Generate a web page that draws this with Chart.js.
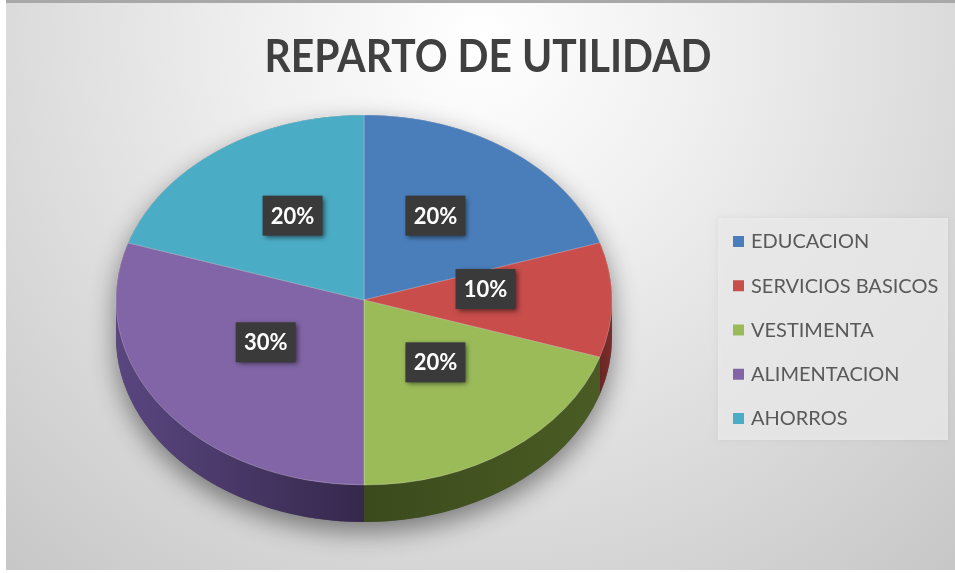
<!DOCTYPE html>
<html>
<head>
<meta charset="utf-8">
<script src="https://cdn.jsdelivr.net/npm/chart.js@4"></script>
<style>
  html, body { margin: 0; padding: 0; background: #fff; }
  #wrap { width: 955px; height: 573px; }
</style>
</head>
<body>
<div id="wrap"><canvas id="chart" width="955" height="573"></canvas></div>
<script>
const chartTitle = 'REPARTO DE UTILIDAD';
const categories = ['EDUCACION', 'SERVICIOS BASICOS', 'VESTIMENTA', 'ALIMENTACION', 'AHORROS'];
const shares = [20, 10, 20, 30, 20];
const topColors = ['#4a7ebb', '#c84d4b', '#9bbb59', '#8165a6', '#4bacc6'];
// side wall colours: [toward start angle, toward end angle]
const sideColors = [['#2c4a70', '#2c4a70'], ['#7a2e2c', '#6a2624'], ['#4a5c24', '#3b4a1c'], ['#35284c', '#5a4680'], ['#2c6676', '#2c6676']];

const tilt = 185 / 248;   // vertical squash of the pie
const depth = 37;         // thickness of the 3d edge

const pie3d = {
  id: 'pie3d',
  beforeDraw(chart) {
    const { ctx, width, height } = chart;
    ctx.save();
    ctx.fillStyle = '#ffffff';
    ctx.fillRect(0, 0, width, height);
    const g = ctx.createRadialGradient(480, 40, 0, 480, 40, 720);
    g.addColorStop(0, '#ffffff');
    g.addColorStop(0.3, '#f0f0f0');
    g.addColorStop(0.7, '#d8d8d8');
    g.addColorStop(1, '#c6c6c6');
    ctx.fillStyle = g;
    ctx.fillRect(6, 3, width - 6, height - 6);
    ctx.fillStyle = '#a8a8a8';
    ctx.fillRect(6, 0, width - 6, 3);
    ctx.restore();
  },
  beforeDatasetsDraw(chart) {
    const ctx = chart.ctx;
    const arcs = chart.getDatasetMeta(0).data;
    const { x, y, outerRadius: rx } = arcs[0];
    const ry = rx * tilt;
    // soft drop shadow under the whole disc
    ctx.save();
    ctx.shadowColor = 'rgba(0,0,0,0.45)';
    ctx.shadowBlur = 26;
    ctx.shadowOffsetY = 10;
    ctx.fillStyle = '#555';
    ctx.beginPath();
    ctx.ellipse(x, y, rx, ry, 0, Math.PI, 2 * Math.PI);
    ctx.ellipse(x, y + depth, rx, ry, 0, 0, Math.PI);
    ctx.closePath();
    ctx.fill();
    ctx.restore();
    // visible side walls (front half)
    arcs.forEach((arc, i) => {
      const a0 = Math.max(arc.startAngle, 0), a1 = Math.min(arc.endAngle, Math.PI);
      if (a0 >= a1) return;
      const x0 = x + rx * Math.cos(a0), x1 = x + rx * Math.cos(a1);
      const g = ctx.createLinearGradient(x0, 0, x1, 0);
      g.addColorStop(0, sideColors[i][0]);
      g.addColorStop(1, sideColors[i][1]);
      ctx.beginPath();
      ctx.ellipse(x, y, rx, ry, 0, a0, a1);
      ctx.lineTo(x1, y + ry * Math.sin(a1) + depth);
      ctx.ellipse(x, y + depth, rx, ry, 0, a1, a0, true);
      ctx.closePath();
      ctx.fillStyle = g;
      ctx.fill();
    });
    ctx.save();
    ctx.translate(x, y);
    ctx.scale(1, tilt);
    ctx.translate(-x, -y);
  },
  afterDatasetsDraw(chart) {
    const ctx = chart.ctx;
    ctx.restore();
    const arcs = chart.getDatasetMeta(0).data;
    const total = shares.reduce((a, b) => a + b, 0);
    arcs.forEach((arc, i) => {
      const mid = (arc.startAngle + arc.endAngle) / 2;
      const px = arc.x + 0.49 * arc.outerRadius * Math.cos(mid);
      const py = arc.y + 0.49 * arc.outerRadius * tilt * Math.sin(mid) - 11;
      ctx.save();
      ctx.shadowColor = 'rgba(0,0,0,0.55)';
      ctx.shadowBlur = 5;
      ctx.shadowOffsetX = 2;
      ctx.shadowOffsetY = 2;
      ctx.fillStyle = '#3a3a3a';
      ctx.fillRect(px - 30, py - 20, 60, 40);
      ctx.restore();
      ctx.save();
      ctx.fillStyle = '#ffffff';
      ctx.font = 'bold 22px Lato';
      ctx.textAlign = 'center';
      ctx.textBaseline = 'middle';
      ctx.fillText(Math.round(shares[i] / total * 100) + '%', px, py + 1);
      ctx.restore();
    });
  },
  afterDraw(chart) {
    const ctx = chart.ctx;
    // title
    ctx.save();
    ctx.fillStyle = '#404040';
    ctx.font = 'bold 46px Lato';
    ctx.textAlign = 'center';
    ctx.textBaseline = 'alphabetic';
    ctx.fillText(chartTitle, 488, 72, 447);
    ctx.restore();
    // legend panel
    ctx.save();
    ctx.shadowColor = 'rgba(0,0,0,0.08)';
    ctx.shadowBlur = 5;
    ctx.fillStyle = 'rgba(236,236,236,0.75)';
    ctx.fillRect(718, 218, 230, 222);
    ctx.restore();
    ctx.save();
    ctx.font = '20px Lato';
    ctx.textBaseline = 'middle';
    categories.forEach((name, i) => {
      const ly = 242 + i * 44.25;
      ctx.fillStyle = topColors[i];
      ctx.fillRect(733, ly - 6, 11, 11);
      ctx.fillStyle = '#595959';
      ctx.fillText(name, 751, ly, 191);
    });
    ctx.restore();
  }
};

new Chart(document.getElementById('chart'), {
  type: 'pie',
  data: {
    labels: categories,
    datasets: [{
      data: shares,
      backgroundColor: topColors,
      borderColor: 'rgba(255,255,255,0.25)',
      borderWidth: 1,
      radius: 248
    }]
  },
  options: {
    responsive: false,
    animation: false,
    layout: { padding: { left: 0, right: 227, top: 27, bottom: 0 } },
    plugins: {
      legend: { display: false },
      tooltip: { enabled: false },
      title: { display: false }
    }
  },
  plugins: [pie3d]
});
</script>
</body>
</html>
